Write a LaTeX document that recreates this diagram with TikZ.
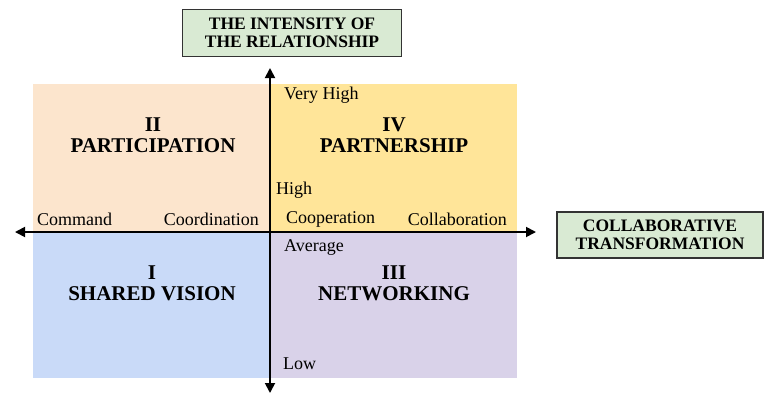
\documentclass[tikz,border=0pt]{standalone}
\usepackage{fontspec}
\setmainfont{Liberation Serif}
\usetikzlibrary{arrows.meta,positioning}
\definecolor{peach}{HTML}{FCE5CD}
\definecolor{gold}{HTML}{FFE599}
\definecolor{skyblue}{HTML}{C9DAF8}
\definecolor{lilac}{HTML}{D9D2E9}
\definecolor{sage}{HTML}{D9EAD3}

\begin{document}
\begin{tikzpicture}[x=1pt,y=-1pt,
  axis/.style={line width=1.8pt,-{Triangle[length=10pt,width=10pt]}},
  titlebox/.style={draw=black!80,line width=1.2pt,fill=sage,align=center,
    font=\bfseries\fontsize{17.5}{18}\selectfont,inner sep=0pt},
  quadname/.style={align=center,font=\bfseries\fontsize{21}{21}\selectfont},
  scalelabel/.style={font=\fontsize{18}{20}\selectfont,inner sep=0pt}]
\useasboundingbox (0,0) rectangle (765,394);

% quadrants
\fill[peach] (33,84) rectangle (270,232);
\fill[gold] (270,84) rectangle (517,232);
\fill[skyblue] (33,232) rectangle (270,378);
\fill[lilac] (270,232) rectangle (517,378);

% axes
\coordinate (origin) at (270,232);
\coordinate (west) at (15,232);
\coordinate (east) at (536,232);
\coordinate (north) at (270,68);
\coordinate (south) at (270,393);
\draw[axis] (origin) -- (west);
\draw[axis] (origin) -- (east);
\draw[axis] (origin) -- (north);
\draw[axis] (origin) -- (south);

% quadrant names
\node[quadname] (qII) at (153,135.5) {II\\PARTICIPATION};
\node[quadname] (qIV) at (394,135.5) {IV\\PARTNERSHIP};
\node[quadname] (qI) at (152,283.5) {I\\SHARED VISION};
\node[quadname] (qIII) at (394,283.5) {III\\NETWORKING};

% scale labels
\node[scalelabel,anchor=west] (command) at (37,219) {Command};
\node[scalelabel,anchor=east] (coordination) at (259,219) {Coordination};
\node[scalelabel,anchor=west] (cooperation) at (286,219) {Cooperation};
\node[scalelabel,anchor=east] (collaboration) at (507,219) {Collaboration};
\node[scalelabel,anchor=west] (veryhigh) at (284,95) {Very High};
\node[scalelabel,anchor=west] (high) at (276,190) {High};
\node[scalelabel,anchor=west] (average) at (284,247) {Average};
\node[scalelabel,anchor=west] (low) at (283,364) {Low};

% axis titles
\node[titlebox,minimum width=219pt,minimum height=47pt] (intensity) at (292,33)
  {THE INTENSITY OF\\THE RELATIONSHIP};
\node[titlebox,minimum width=206pt,minimum height=46pt] (transform) at (660,235)
  {COLLABORATIVE\\TRANSFORMATION};
\end{tikzpicture}
\end{document}
